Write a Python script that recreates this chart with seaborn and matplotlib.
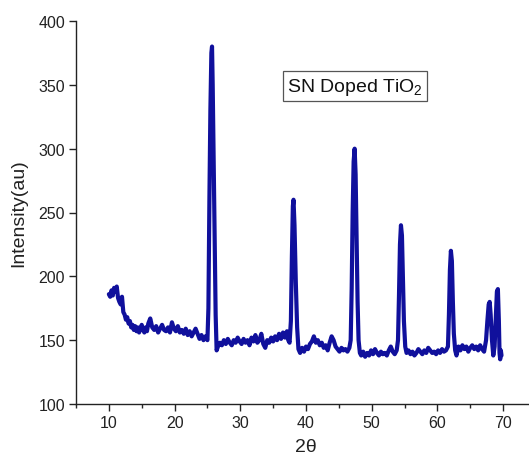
import matplotlib
matplotlib.use("Agg")
import matplotlib.pyplot as plt
from matplotlib.ticker import MultipleLocator
import seaborn as sns
import pandas as pd

two_theta = [
    10.0, 10.2, 10.4, 10.6, 10.8, 11.0, 11.2, 11.4, 11.6, 11.8, 12.0, 12.2, 12.4, 12.6, 12.8,
    13.0, 13.2, 13.4, 13.6, 13.8, 14.0, 14.2, 14.4, 14.6, 14.8, 15.0, 15.2, 15.4, 15.6, 15.8,
    16.0, 16.3, 16.6, 16.9, 17.2, 17.5, 17.8, 18.1, 18.4, 18.7, 19.0, 19.3, 19.6, 19.9, 20.2,
    20.5, 20.8, 21.1, 21.4, 21.7, 22.0, 22.3, 22.6, 22.9, 23.2, 23.5, 23.8, 24.1, 24.4, 24.7,
    25.0, 25.15, 25.3, 25.45, 25.6, 25.7, 25.8, 25.95, 26.1, 26.25, 26.4, 26.6,
    26.9, 27.2, 27.5, 27.8, 28.1, 28.4, 28.7, 29.0, 29.3, 29.6, 29.9, 30.2, 30.5, 30.8, 31.1,
    31.4, 31.7, 32.0, 32.3, 32.6, 32.9, 33.2, 33.5, 33.8, 34.1, 34.4, 34.7, 35.0, 35.3, 35.6,
    35.9, 36.2, 36.5, 36.8, 37.1, 37.3, 37.5,
    37.7, 37.85, 38.0, 38.1, 38.25, 38.45, 38.65, 38.85, 39.1,
    39.4, 39.7, 40.0, 40.3, 40.6, 40.9, 41.2, 41.5, 41.8, 42.1, 42.4, 42.7, 43.0, 43.3, 43.6,
    43.9, 44.2, 44.5, 44.8, 45.1, 45.4, 45.7, 46.0, 46.3, 46.6,
    46.8, 46.95, 47.1, 47.25, 47.4, 47.55, 47.7, 47.85, 48.0, 48.2, 48.4,
    48.7, 49.0, 49.3, 49.6, 49.9, 50.2, 50.5, 50.8, 51.1, 51.4, 51.7, 52.0, 52.3, 52.6, 52.9,
    53.2, 53.5, 53.8,
    54.0, 54.15, 54.3, 54.45, 54.6, 54.75, 54.9, 55.1, 55.3,
    55.6, 55.9, 56.2, 56.5, 56.8, 57.1, 57.4, 57.7, 58.0, 58.3, 58.6, 58.9, 59.2, 59.5, 59.8,
    60.1, 60.4, 60.7, 61.0, 61.3, 61.6,
    61.75, 61.9, 62.05, 62.2, 62.35, 62.5, 62.7, 62.9,
    63.2, 63.5, 63.8, 64.1, 64.4, 64.7, 65.0, 65.3, 65.6, 65.9, 66.2, 66.5, 66.8, 67.1, 67.4,
    67.6, 67.8, 67.95, 68.1, 68.3, 68.5,
    68.7, 68.9, 69.05, 69.2, 69.35, 69.45, 69.55, 69.65, 69.75,
]

intensity = [
    186, 184, 189, 185, 191, 188, 192, 183, 180, 178, 184, 172, 170, 166, 168,
    163, 165, 160, 162, 158, 161, 157, 160, 156, 159, 162, 158, 156, 160, 157,
    163, 167, 160, 158, 161, 156, 159, 162, 158, 157, 160, 156, 164, 159, 157,
    161, 156, 158, 155, 159, 154, 157, 153, 156, 159, 155, 151, 154, 150, 153,
    150, 175, 260, 330, 375, 380, 350, 290, 230, 170, 142, 145,
    148, 146, 150, 147, 151, 148, 146, 150, 148, 152, 149, 147, 151, 148, 150,
    146, 152, 149, 154, 148, 150, 155, 147, 144, 150, 148, 152, 149, 153, 150,
    155, 151, 156, 152, 157, 150, 148,
    165, 215, 255, 260, 240, 195, 160, 143, 140,
    144, 141, 145, 143, 147, 149, 153, 148, 150, 146, 148, 144, 146, 142, 148,
    153, 150, 145, 143, 141, 144, 142, 143, 141, 144,
    150, 190, 250, 290, 300, 280, 230, 180, 150, 140, 138,
    141, 137, 140, 138, 142, 139, 143, 140, 138, 141, 139, 140, 138, 142, 145,
    141, 139, 142,
    150, 185, 225, 240, 232, 200, 165, 145, 140,
    142, 139, 141, 138, 140, 143, 141, 139, 142, 140, 144, 142, 140, 141, 139,
    142, 140, 143, 141, 142, 145,
    170, 205, 220, 212, 180, 155, 142, 138,
    145, 142, 146, 143, 145, 141, 144, 146, 143, 145, 142, 146, 143, 141, 150,
    165, 178, 180, 170, 150, 138,
    145, 170, 188, 190, 165, 140, 135, 142, 138,
]

x_ticks = [10, 20, 30, 40, 50, 60, 70]
y_ticks = [100, 150, 200, 250, 300, 350, 400]
x_label = "2θ"
y_label = "Intensity(au)"
annotation = "SN Doped TiO$_2$"

sns.set_theme(style="ticks")
plt.rcParams["font.family"] = ["Liberation Sans", "DejaVu Sans"]
plt.rcParams["mathtext.fontset"] = "custom"
plt.rcParams["mathtext.rm"] = "Liberation Sans"
plt.rcParams["mathtext.it"] = "Liberation Sans"

df = pd.DataFrame({"two_theta": two_theta, "intensity": intensity})

fig = plt.figure(figsize=(5.29, 4.64), dpi=100)
ax = fig.add_axes([76 / 529, 59 / 464, 460 / 529, 383 / 464])

sns.lineplot(data=df, x="two_theta", y="intensity", ax=ax, color="#10109c",
             linewidth=3.0, estimator=None, sort=False)

ax.set_xlim(5, 75)
ax.set_ylim(100, 400)
ax.set_xticks(x_ticks)
ax.set_yticks(y_ticks)
ax.xaxis.set_minor_locator(MultipleLocator(5))
ax.tick_params(axis="both", which="major", direction="out", length=5, width=1,
               labelsize=11.5, colors="#222222", labelcolor="#222222", pad=3)
ax.tick_params(axis="x", which="minor", direction="out", length=3, width=1)
for s in ["top", "right"]:
    ax.spines[s].set_visible(False)
for s in ["left", "bottom"]:
    ax.spines[s].set_linewidth(1.0)
    ax.spines[s].set_color("#222222")

ax.set_xlabel(x_label, fontsize=14, color="#222222", labelpad=6)
ax.set_ylabel(y_label, fontsize=14, color="#222222", labelpad=8)

fig.text(355 / 529, 1 - 87 / 464, annotation, fontsize=14, ha="center", va="center",
         color="#111111",
         bbox=dict(boxstyle="square,pad=0.22", facecolor="white", edgecolor="#555555", linewidth=0.9))

fig.savefig("out.png", dpi=100)
